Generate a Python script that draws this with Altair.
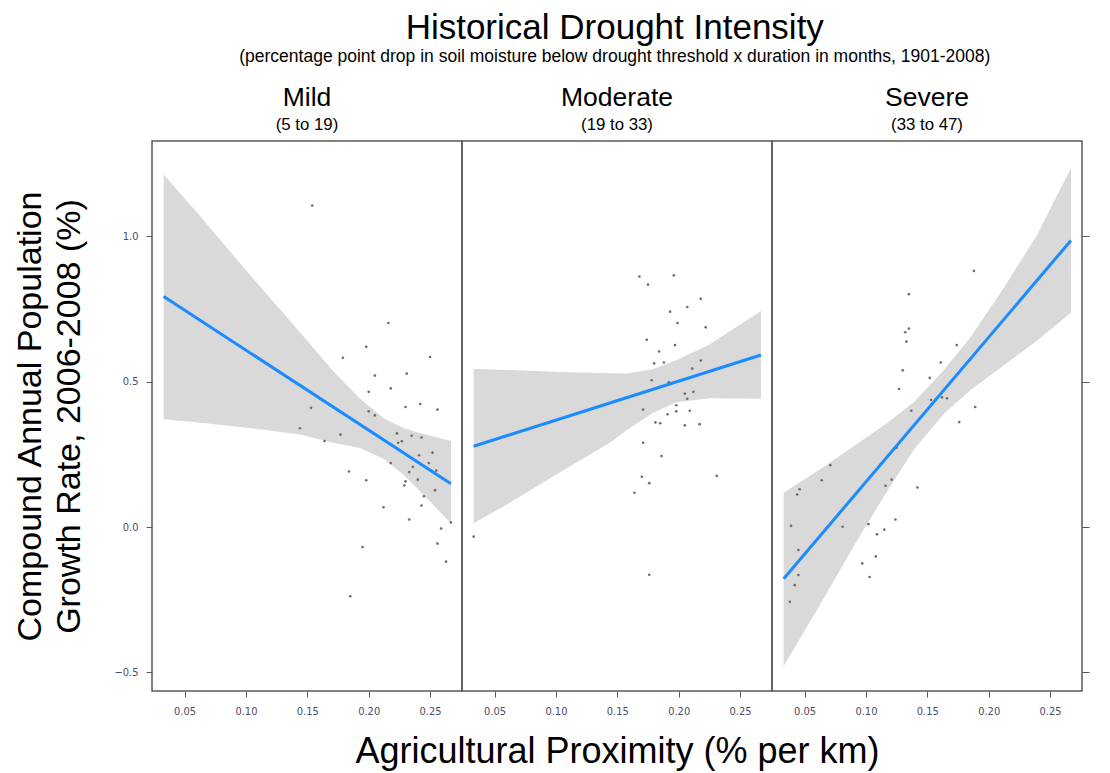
import altair as alt
import pandas as pd

# ---------------- data ----------------
panel_names = ["Mild", "Moderate", "Severe"]
panel_ranges = ["(5 to 19)", "(19 to 33)", "(33 to 47)"]

mild_x = [0.154, 0.216, 0.198, 0.179, 0.250, 0.205, 0.231, 0.200, 0.218, 0.230, 0.242, 0.256,
          0.153, 0.200, 0.205, 0.144, 0.164, 0.177, 0.223, 0.235, 0.243, 0.224, 0.227, 0.223,
          0.252, 0.241, 0.218, 0.249, 0.236, 0.255, 0.233, 0.184, 0.198, 0.230, 0.240, 0.229,
          0.254, 0.245, 0.243, 0.212, 0.233, 0.267, 0.259, 0.195, 0.256, 0.263, 0.185]
mild_y = [1.106, 0.702, 0.620, 0.582, 0.585, 0.521, 0.528, 0.465, 0.477, 0.413, 0.423, 0.404,
          0.410, 0.398, 0.384, 0.340, 0.296, 0.318, 0.322, 0.314, 0.308, 0.290, 0.295, 0.271,
          0.256, 0.247, 0.220, 0.220, 0.207, 0.194, 0.189, 0.191, 0.161, 0.157, 0.163, 0.143,
          0.127, 0.106, 0.074, 0.068, 0.026, 0.016, -0.005, -0.069, -0.057, -0.119, -0.238]

moderate_x = [0.168, 0.196, 0.175, 0.218, 0.207, 0.193, 0.199, 0.222, 0.174, 0.197, 0.184, 0.180,
              0.188, 0.218, 0.211, 0.178, 0.192, 0.205, 0.212, 0.207, 0.198, 0.171, 0.198, 0.209,
              0.191, 0.181, 0.185, 0.205, 0.217, 0.171, 0.186, 0.170, 0.231, 0.176, 0.164, 0.033,
              0.176]
moderate_y = [0.862, 0.866, 0.834, 0.785, 0.757, 0.741, 0.702, 0.687, 0.644, 0.626, 0.604, 0.563,
              0.566, 0.573, 0.545, 0.505, 0.498, 0.459, 0.465, 0.441, 0.419, 0.404, 0.398, 0.400,
              0.388, 0.360, 0.357, 0.350, 0.354, 0.290, 0.244, 0.173, 0.176, 0.151, 0.118, -0.033,
              -0.164]

severe_x = [0.188, 0.135, 0.135, 0.132, 0.133, 0.174, 0.161, 0.130, 0.152, 0.127, 0.153, 0.162,
            0.166, 0.189, 0.137, 0.176, 0.125, 0.071, 0.064, 0.121, 0.046, 0.044, 0.116, 0.142,
            0.039, 0.081, 0.102, 0.124, 0.115, 0.109, 0.045, 0.097, 0.108, 0.045, 0.103, 0.042,
            0.038]
severe_y = [0.881, 0.801, 0.683, 0.670, 0.638, 0.626, 0.566, 0.539, 0.513, 0.475, 0.437, 0.446,
            0.443, 0.413, 0.400, 0.361, 0.273, 0.213, 0.161, 0.163, 0.130, 0.112, 0.142, 0.136,
            0.004, 0.001, 0.010, 0.026, -0.009, -0.025, -0.079, -0.125, -0.101, -0.165, -0.172,
            -0.200, -0.257]

# fitted lines (end points)
fit_x = [0.033, 0.267]
mild_fit = [0.793, 0.149]
moderate_fit = [0.278, 0.592]
severe_fit = [-0.178, 0.986]

# confidence bands
mild_band_x = [0.033, 0.063, 0.103, 0.144, 0.171, 0.193, 0.212, 0.228, 0.240, 0.267]
mild_band_hi = [1.213, 1.068, 0.869, 0.670, 0.537, 0.441, 0.375, 0.341, 0.325, 0.296]
mild_band_lo = [0.371, 0.359, 0.341, 0.318, 0.290, 0.272, 0.235, 0.182, 0.131, 0.013]

moderate_band_x = [0.033, 0.063, 0.103, 0.144, 0.158, 0.179, 0.198, 0.225, 0.267]
moderate_band_hi = [0.544, 0.540, 0.533, 0.529, 0.528, 0.543, 0.574, 0.628, 0.743]
moderate_band_lo = [0.013, 0.085, 0.188, 0.290, 0.335, 0.392, 0.429, 0.443, 0.441]

severe_band_x = [0.033, 0.063, 0.090, 0.117, 0.139, 0.163, 0.185, 0.212, 0.239, 0.267]
severe_band_hi = [0.118, 0.200, 0.278, 0.357, 0.429, 0.538, 0.652, 0.821, 1.002, 1.234]
severe_band_lo = [-0.478, -0.265, -0.066, 0.121, 0.266, 0.387, 0.471, 0.556, 0.640, 0.737]

x_ticks = [0.05, 0.10, 0.15, 0.20, 0.25]
y_ticks = [-0.5, 0.0, 0.5, 1.0]

# ---------------- style ----------------
X_DOMAIN = [0.0235, 0.276]
Y_DOMAIN = [-0.564, 1.328]
PW, PH = 310, 550
FONT = "Liberation Sans"
TICK_FONT = "Liberation Sans Narrow, DejaVu Sans Condensed, Liberation Sans, sans-serif"
LABEL_COLOR = "#4d4d66"
FRAME = "#595959"

panels_data = [
    (mild_x, mild_y, mild_fit, mild_band_x, mild_band_lo, mild_band_hi),
    (moderate_x, moderate_y, moderate_fit, moderate_band_x, moderate_band_lo, moderate_band_hi),
    (severe_x, severe_y, severe_fit, severe_band_x, severe_band_lo, severe_band_hi),
]


def make_panel(i):
    px, py, fit, bx, blo, bhi = panels_data[i]
    pts = pd.DataFrame({"x": px, "y": py})
    line = pd.DataFrame({"x": fit_x, "y": fit})
    band = pd.DataFrame({"x": bx, "lo": blo, "hi": bhi})

    xscale = alt.Scale(domain=X_DOMAIN, nice=False, zero=False)
    yscale = alt.Scale(domain=Y_DOMAIN, nice=False, zero=False)

    x_axis_kwargs = dict(values=x_ticks, format=".2f", grid=False, domain=False,
                         tickSize=6, labelPadding=8, labelFontSize=11,
                         labelFont=TICK_FONT, labelColor=LABEL_COLOR,
                         tickColor=FRAME, labelFlush=False)
    if i == 1:
        x_axis = alt.Axis(title="Agricultural Proximity (% per km)", titleFontSize=36,
                          titleFont=FONT, titleFontWeight="normal", titleColor="black",
                          titlePadding=18, **x_axis_kwargs)
    else:
        x_axis = alt.Axis(title=None, **x_axis_kwargs)

    if i == 0:
        y_axis = alt.Axis(values=y_ticks, format=".1f", grid=False, domain=False,
                          tickSize=6, labelPadding=8, labelFontSize=11,
                          labelFont=TICK_FONT, labelColor=LABEL_COLOR, tickColor=FRAME,
                          title=["Compound Annual Population", "Growth Rate, 2006-2008 (%)"],
                          titleFontSize=34, titleFont=FONT, titleFontWeight="normal",
                          titleColor="black", titlePadding=27, titleLineHeight=39,
                          labelFlush=False)
    elif i == 2:
        y_axis = alt.Axis(values=y_ticks, orient="right", labels=False, grid=False,
                          domain=False, tickSize=7, tickColor=FRAME, title=None)
    else:
        y_axis = None

    band_layer = alt.Chart(band).mark_area(color="#d9d9d9", opacity=1).encode(
        x=alt.X("x:Q", scale=xscale, axis=x_axis),
        y=alt.Y("lo:Q", scale=yscale, axis=y_axis),
        y2="hi:Q",
    )
    pts_layer = alt.Chart(pts).mark_circle(size=7, color="#6e6e6e", opacity=1).encode(
        x=alt.X("x:Q", scale=xscale),
        y=alt.Y("y:Q", scale=yscale),
    )
    line_layer = alt.Chart(line).mark_line(color="#1a8cff", strokeWidth=3).encode(
        x=alt.X("x:Q", scale=xscale),
        y=alt.Y("y:Q", scale=yscale),
    )
    return alt.layer(band_layer, pts_layer, line_layer).properties(
        width=PW, height=PH,
        title=alt.TitleParams(text=panel_names[i], subtitle=panel_ranges[i],
                              fontSize=26.5, subtitleFontSize=16.8, font=FONT,
                              subtitleFont=FONT, fontWeight="normal",
                              color="black", subtitleColor="black",
                              anchor="middle", frame="group", offset=7,
                              subtitlePadding=6),
    )


chart = alt.hconcat(make_panel(0), make_panel(1), make_panel(2),
                    spacing=0, bounds="flush").properties(
    title=alt.TitleParams(
        text="Historical Drought Intensity",
        subtitle="(percentage point drop in soil moisture below drought threshold x duration in months, 1901-2008)",
        fontSize=35, subtitleFontSize=17.5, font=FONT, subtitleFont=FONT,
        fontWeight="normal", color="black", subtitleColor="black",
        anchor="middle", offset=18, subtitlePadding=2, dx=63,
    ),
    padding={"left": 5, "top": 3, "right": 5, "bottom": 5},
).configure(background="white").configure_view(
    stroke=FRAME, strokeWidth=1.5
)

chart.save("out.html", embed_options={"renderer": "svg", "actions": False})
